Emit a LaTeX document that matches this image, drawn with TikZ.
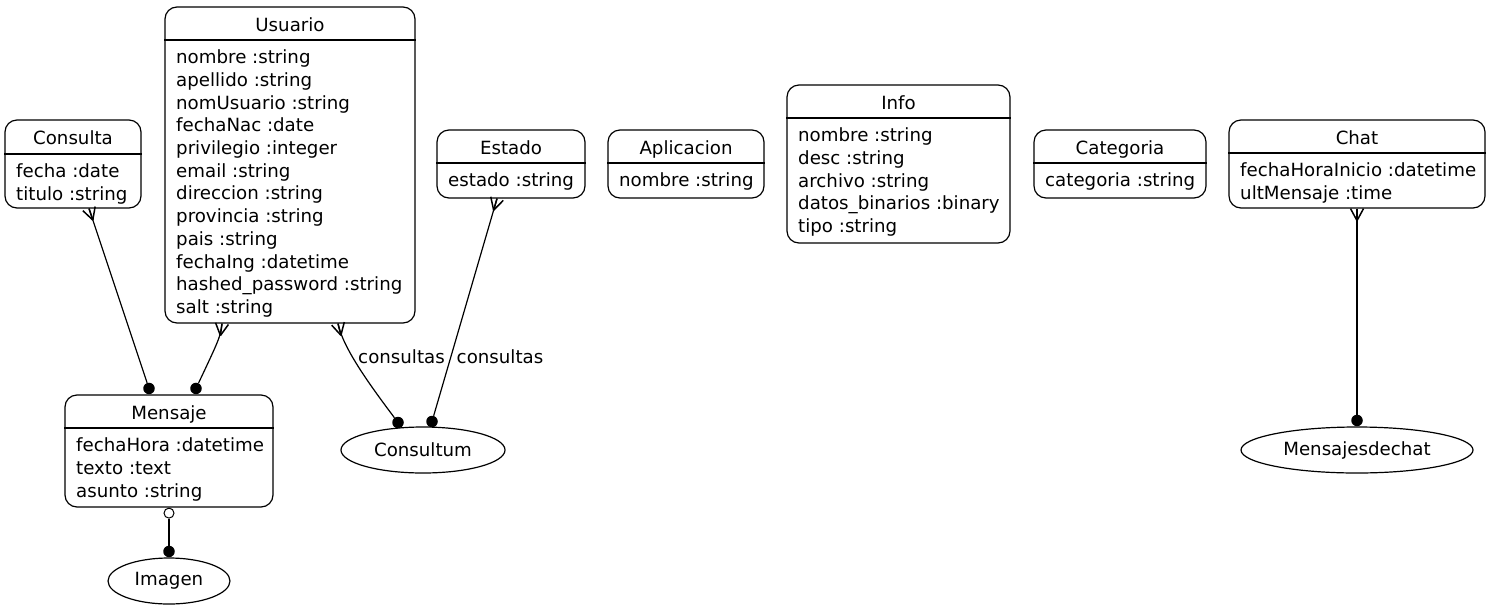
\documentclass[tikz,border=0pt]{standalone}
\usepackage{fontspec}
\setmainfont{DejaVu Sans}
\usetikzlibrary{shapes.geometric,fit,calc}
\newcommand\erbox[8]{%
  \node[erbox, fit={(#2,#3) (#4,#5)}] (#1) {};
  \draw[divline] (#1.west |- 0,#6) -- (#1.east |- 0,#6);
  \node[txt, anchor=base] (#1-title) at ($(#1.north)!0.5!(#1.north |- 0,#6) + (0,7.8)$) {#7};
  \node[txt, anchor=north west, align=left] (#1-attrs) at (#2+11, #6+8.5) {\rule{0pt}{15pt}#8};
}
\newcommand\crowfoot[2]{%
  \draw[crow] ($(#1)!12pt!(#2)$) -- ($(#1)!6.5pt!90:(#2)$);
  \draw[crow] ($(#1)!12pt!(#2)$) -- ($(#1)!6.5pt!-90:(#2)$);
  \draw[crow] ($(#1)!12pt!(#2)$) -- (#1);
}
\tikzset{
  erbox/.style={draw, line width=1.2pt, rounded corners=12pt, inner sep=0pt},
  divline/.style={line width=1.2pt},
  txt/.style={inner sep=0pt, font=\fontsize{18.2}{22.7}\selectfont},
  ent/.style={draw, ellipse, line width=1.2pt, inner sep=0pt, font=\fontsize{18.2}{22.7}\selectfont},
  edge/.style={line width=1.2pt},
  crow/.style={line width=1.5pt},
  dot/.style={circle, fill=black, inner sep=0pt, minimum size=11.5pt},
  odot/.style={circle, draw, fill=white, line width=1pt, inner sep=0pt, minimum size=10pt},
}
\begin{document}
\begin{tikzpicture}[x=1pt, y=-1pt]
\useasboundingbox (0,0) rectangle (1491,611);
\fill[white] (0,0) rectangle (1491,611);

\erbox{usuario}{165}{7}{415}{323}{40}{Usuario}{nombre :string\\apellido :string\\nomUsuario :string\\fechaNac :date\\privilegio :integer\\email :string\\direccion :string\\provincia :string\\pais :string\\fechaIng :datetime\\hashed\_password :string\\salt :string}
\erbox{consulta}{5}{120}{141}{208}{154}{Consulta}{fecha :date\\titulo :string}
\erbox{estado}{437}{130}{585}{198}{163}{Estado}{estado :string}
\erbox{aplicacion}{608}{130}{764}{198}{163}{Aplicacion}{nombre :string}
\erbox{info}{787}{85}{1010}{243}{118}{Info}{nombre :string\\desc :string\\archivo :string\\datos\_binarios :binary\\tipo :string}
\erbox{categoria}{1034}{130}{1206}{198}{163}{Categoria}{categoria :string}
\erbox{chat}{1229}{120}{1485}{208}{153}{Chat}{fechaHoraInicio :datetime\\ultMensaje :time}
\erbox{mensaje}{65}{395}{273}{507}{428}{Mensaje}{fechaHora :datetime\\texto :text\\asunto :string}

\node[ent, minimum width=164pt, minimum height=46pt] (consultum) at (423,450) {Consultum};
\node[ent, minimum width=122pt, minimum height=46pt] (imagen) at (169,581) {Imagen};
\node[ent, minimum width=232pt, minimum height=46pt] (mensajesdechat) at (1357,450) {Mensajesdechat};

% Consulta -> Mensaje
\coordinate (e1a) at (consulta.south -| 89,0);
\node[dot, anchor=south] (e1b) at (mensaje.north -| 149,0) {};
\draw[edge] (e1a) -- (e1b);
\crowfoot{e1a}{e1b}

% Usuario -> Mensaje
\coordinate (e2a) at (usuario.south -| 222,0);
\coordinate (e2c) at ($(e2a)+(-2,15)$);
\node[dot, anchor=south] (e2b) at (mensaje.north -| 196,0) {};
\draw[edge] (e2a) .. controls ($(e2a)+(-2,14)$) .. (e2b);
\crowfoot{e2a}{e2c}

% Usuario -> Consultum
\coordinate (e3a) at (usuario.south -| 338,0);
\coordinate (e3c) at ($(e3a)+(3,12)$);
\node[dot] (e3b) at ($(consultum.center)+(-25,-27.5)$) {};
\draw[edge] (e3a) .. controls ($(e3a)+(5,24)$) and ($(e3b)+(-30,-40)$) .. (e3b);
\crowfoot{e3a}{e3c}

% Estado -> Consultum
\coordinate (e4a) at (estado.south -| 497,0);
\node[dot] (e4b) at ($(consultum.center)+(9,-28.5)$) {};
\draw[edge] (e4a) -- (e4b);
\crowfoot{e4a}{e4b}

\node[txt, anchor=base] (lbl1) at (401.5,363) {consultas};
\node[txt, anchor=base] (lbl2) at (500,363) {consultas};

% Chat -> Mensajesdechat
\coordinate (e5a) at (chat.south -| 1357,0);
\node[dot, anchor=south] (e5b) at (mensajesdechat.north) {};
\draw[edge] (e5a) -- (e5b);
\crowfoot{e5a}{e5b}

% Mensaje -> Imagen
\node[odot, anchor=north] (e6a) at (mensaje.south -| 169,0) {};
\node[dot, anchor=south] (e6b) at (imagen.north) {};
\draw[edge] (e6a) -- (e6b);
\end{tikzpicture}
\end{document}
